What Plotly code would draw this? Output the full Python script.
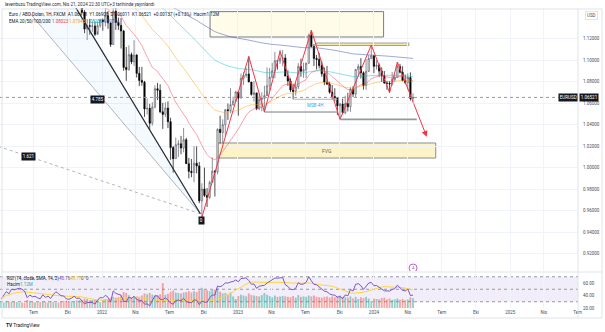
import numpy as np
import pandas as pd
import plotly.graph_objects as go

# ---------------- weekly EUR/USD bars (Monday-dated) ----------------
weeks = pd.date_range("2021-01-04", "2024-04-15", freq="W-MON")
first_open = 1.2215

close = [
    # 2021
    1.2219, 1.2078, 1.2170, 1.2136, 1.2044, 1.2119, 1.2117, 1.2075, 1.1914, 1.1951, 1.1903, 1.1794, 1.1762,
    1.1900, 1.1983, 1.2097, 1.2020, 1.2164, 1.2142, 1.2180, 1.2193, 1.2166, 1.2107, 1.1865, 1.1937, 1.1864,
    1.1876, 1.1810, 1.1771, 1.1870, 1.1762, 1.1795, 1.1697, 1.1795, 1.1879, 1.1813, 1.1727, 1.1719, 1.1596,
    1.1574, 1.1600, 1.1645, 1.1558, 1.1568, 1.1445, 1.1288, 1.1318, 1.1315, 1.1316, 1.1239, 1.1320, 1.1370,
    # 2022
    1.1358, 1.1412, 1.1345, 1.1144, 1.1453, 1.1349, 1.1322, 1.1270, 1.0931, 1.0911, 1.1050, 1.0983, 1.1046,
    1.0876, 1.0810, 1.0794, 1.0545, 1.0550, 1.0412, 1.0562, 1.0733, 1.0718, 1.0518, 1.0494, 1.0553, 1.0426,
    1.0185, 1.0082, 1.0212, 1.0220, 1.0181, 1.0258, 1.0036, 0.9964, 0.9953, 1.0040, 1.0015, 0.9690, 0.9800,
    0.9740, 0.9722, 0.9862, 0.9965, 0.9959, 1.0355, 1.0325, 1.0398, 1.0537, 1.0530, 1.0585, 1.0617, 1.0702,
    # 2023
    1.0645, 1.0830, 1.0856, 1.0869, 1.0795, 1.0680, 1.0694, 1.0548, 1.0634, 1.0643, 1.0669, 1.0760, 1.0840,
    1.0900, 1.0992, 1.0990, 1.1016, 1.1018, 1.0850, 1.0805, 1.0720, 1.0708, 1.0750, 1.0940, 1.0895, 1.0910,
    1.0970, 1.1230, 1.1125, 1.1015, 1.1005, 1.0948, 1.0872, 1.0795, 1.0775, 1.0700, 1.0660, 1.0650, 1.0573,
    1.0590, 1.0510, 1.0594, 1.0565, 1.0729, 1.0683, 1.0913, 1.0940, 1.0881, 1.0762, 1.0895, 1.1013, 1.1039,
    # 2024
    1.0941, 1.0951, 1.0897, 1.0853, 1.0785, 1.0784, 1.0777, 1.0820, 1.0838, 1.0939, 1.0886, 1.0808, 1.0790,
    1.0837, 1.0642, 1.0652,
]

high = [
    # 2021
    1.2349, 1.2223, 1.2189, 1.2190, 1.2150, 1.2150, 1.2145, 1.2243, 1.2113, 1.1990, 1.1990, 1.1945, 1.1800,
    1.1927, 1.1994, 1.2117, 1.2150, 1.2172, 1.2181, 1.2245, 1.2266, 1.2254, 1.2218, 1.2145, 1.1975, 1.1951,
    1.1895, 1.1880, 1.1850, 1.1909, 1.1900, 1.1803, 1.1805, 1.1810, 1.1909, 1.1883, 1.1849, 1.1750, 1.1727,
    1.1640, 1.1624, 1.1669, 1.1692, 1.1616, 1.1609, 1.1464, 1.1374, 1.1383, 1.1355, 1.1360, 1.1361, 1.1385,
    # 2022
    1.1386, 1.1482, 1.1454, 1.1343, 1.1484, 1.1495, 1.1395, 1.1390, 1.1280, 1.1121, 1.1137, 1.1070, 1.1185,
    1.1054, 1.0935, 1.0936, 1.0806, 1.0642, 1.0593, 1.0607, 1.0765, 1.0787, 1.0774, 1.0601, 1.0606, 1.0615,
    1.0463, 1.0200, 1.0279, 1.0254, 1.0294, 1.0368, 1.0275, 1.0090, 1.0079, 1.0198, 1.0197, 1.0051, 0.9853,
    0.9999, 0.9809, 0.9877, 1.0094, 0.9977, 1.0364, 1.0481, 1.0448, 1.0545, 1.0595, 1.0737, 1.0660, 1.0714,
    # 2023
    1.0713, 1.0874, 1.0887, 1.0929, 1.1033, 1.0795, 1.0805, 1.0695, 1.0691, 1.0700, 1.0760, 1.0930, 1.0925,
    1.0973, 1.1075, 1.1000, 1.1095, 1.1092, 1.1054, 1.0904, 1.0830, 1.0780, 1.0787, 1.0971, 1.1012, 1.0976,
    1.0975, 1.1245, 1.1276, 1.1149, 1.1047, 1.1065, 1.0987, 1.0930, 1.0945, 1.0797, 1.0768, 1.0737, 1.0650,
    1.0601, 1.0640, 1.0668, 1.0695, 1.0747, 1.0756, 1.0914, 1.0965, 1.1017, 1.0894, 1.1009, 1.1045, 1.1140,
    # 2024
    1.1045, 1.0998, 1.0969, 1.0932, 1.0897, 1.0806, 1.0805, 1.0888, 1.0865, 1.0981, 1.0964, 1.0942, 1.0865,
    1.0877, 1.0885, 1.0691,
]

low = [
    # 2021
    1.2194, 1.2055, 1.2054, 1.2058, 1.1952, 1.2030, 1.2023, 1.2066, 1.1893, 1.1836, 1.1875, 1.1762, 1.1704,
    1.1760, 1.1868, 1.1960, 1.2012, 1.1986, 1.2052, 1.2104, 1.2133, 1.2104, 1.2094, 1.1847, 1.1846, 1.1807,
    1.1782, 1.1772, 1.1752, 1.1766, 1.1754, 1.1706, 1.1664, 1.1696, 1.1787, 1.1800, 1.1724, 1.1684, 1.1563,
    1.1529, 1.1524, 1.1571, 1.1535, 1.1513, 1.1432, 1.1250, 1.1186, 1.1235, 1.1262, 1.1222, 1.1265, 1.1300,
    # 2022
    1.1273, 1.1313, 1.1290, 1.1121, 1.1140, 1.1280, 1.1280, 1.1106, 1.0900, 1.0806, 1.0900, 1.0961, 1.0945,
    1.0837, 1.0757, 1.0761, 1.0471, 1.0493, 1.0350, 1.0389, 1.0550, 1.0627, 1.0506, 1.0359, 1.0469, 1.0366,
    1.0072, 0.9952, 1.0080, 1.0097, 1.0123, 1.0141, 1.0034, 0.9899, 0.9910, 0.9864, 0.9945, 0.9668, 0.9536,
    0.9725, 0.9632, 0.9705, 0.9860, 0.9730, 0.9936, 1.0224, 1.0224, 1.0290, 1.0443, 1.0505, 1.0575, 1.0610,
    # 2023
    1.0483, 1.0645, 1.0767, 1.0834, 1.0794, 1.0669, 1.0613, 1.0533, 1.0533, 1.0524, 1.0516, 1.0713, 1.0713,
    1.0830, 1.0830, 1.0910, 1.0964, 1.0941, 1.0850, 1.0760, 1.0701, 1.0635, 1.0668, 1.0730, 1.0844, 1.0834,
    1.0833, 1.0964, 1.1117, 1.0944, 1.0912, 1.0921, 1.0844, 1.0766, 1.0771, 1.0686, 1.0631, 1.0615, 1.0488,
    1.0448, 1.0496, 1.0495, 1.0522, 1.0517, 1.0656, 1.0656, 1.0852, 1.0828, 1.0724, 1.0723, 1.0889, 1.1008,
    # 2024
    1.0877, 1.0911, 1.0844, 1.0795, 1.0779, 1.0723, 1.0695, 1.0761, 1.0796, 1.0838, 1.0875, 1.0802, 1.0774,
    1.0724, 1.0622, 1.0601,
]

# weekly tick volume, millions
volume_m = [
    0.85, 0.80, 0.75, 0.80, 0.85, 0.70, 0.70, 0.85, 0.80, 0.75, 0.70, 0.75, 0.70,
    0.72, 0.65, 0.78, 0.70, 0.75, 0.72, 0.70, 0.62, 0.66, 0.60, 0.95, 0.80, 0.70,
    0.68, 0.66, 0.70, 0.72, 0.74, 0.65, 0.80, 0.70, 0.62, 0.66, 0.70, 0.78, 0.85,
    0.80, 0.78, 0.72, 0.88, 0.90, 0.95, 1.10, 1.05, 0.92, 0.95, 0.98, 0.85, 0.70,
    0.95, 1.05, 1.00, 1.15, 1.30, 1.20, 1.25, 1.45, 1.85, 1.75, 1.50, 1.25, 1.40,
    1.35, 1.30, 1.45, 1.70, 1.60, 1.75, 1.55, 1.45, 1.50, 1.60, 2.90, 1.55, 1.65,
    1.90, 2.05, 1.80, 1.75, 1.70, 1.80, 1.85, 1.95, 1.80, 1.95, 1.85, 2.05, 2.35,
    2.15, 2.05, 1.95, 2.10, 2.15, 2.30, 1.90, 1.70, 1.75, 1.50, 1.80, 1.35, 1.05,
    1.40, 1.55, 1.45, 1.35, 1.70, 1.50, 1.45, 1.40, 1.35, 1.50, 1.75, 1.55, 1.40,
    1.25, 1.45, 1.30, 1.35, 1.40, 1.35, 1.30, 1.25, 1.40, 1.20, 1.50, 1.30, 1.35,
    1.30, 1.45, 1.35, 1.45, 1.30, 1.25, 1.20, 1.30, 1.35, 1.20, 1.35, 1.25, 1.40,
    1.45, 1.30, 1.25, 1.20, 1.35, 1.10, 1.30, 1.05, 1.25, 1.15, 1.30, 1.10, 0.80,
    1.10, 1.05, 1.00, 1.15, 1.20, 1.00, 1.10, 0.95, 1.00, 1.10, 0.95, 1.05, 0.90,
    1.00, 1.25, 1.12,
]

assert len(close) == len(high) == len(low) == len(volume_m) == len(weeks)

# EMA ribbon: lengths, starting values, colours
ema_lengths = [20, 50, 100, 200]
ema_start = [1.215, 1.195, 1.200, 1.165]
ema_colors = ["rgba(242,54,69,0.45)", "rgba(255,152,0,0.45)",
              "rgba(0,188,212,0.45)", "rgba(63,81,181,0.5)"]

# hand-drawn zigzag (swing points) and projection arrow
zz_dates = ["2022-09-26", "2023-01-30", "2023-03-13", "2023-04-24", "2023-05-29", "2023-07-17",
            "2023-10-02", "2023-12-25", "2024-02-12", "2024-03-04", "2024-04-15"]
zz_prices = [0.9536, 1.1033, 1.0516, 1.1080, 1.0720, 1.1276, 1.0448, 1.1139, 1.0695, 1.0981, 1.0610]
arrow_to = ("2024-05-22", 1.0285)

# trend fan from the 2022 low
fan_origin = ("2022-09-22", 0.9570)
fan_black_end = ("2021-10-15", 1.1530)
fan_gray_end = ("2021-06-21", 1.1437)
fan_dot_end = ("2021-03-07", 1.0221)

# horizontal levels: (start, end, price, colour, width)
levels = [
    ("2023-03-13", "2023-09-27", 1.0516, "#787b86", 1),
    ("2023-05-29", "2023-09-25", 1.0635, "#b2b5be", 1),
    ("2023-10-02", "2024-04-25", 1.0448, "#9598a1", 1.6),
]

# zones: (start, end, low, high, fill, border)
zones = [
    ("2022-10-18", "2024-01-27", 1.1214, 1.1450, "#fffde9", "#787b86"),
    ("2023-07-29", "2024-04-04", 1.1135, 1.1158, "#fbe9a6", "#9e9e9e"),
    ("2022-11-08", "2024-06-15", 1.0088, 1.0228, "#fcf3c6", "#8d8d8d"),
]

last_price = 1.06521

x_tick_dates = ["2021-07-01", "2021-10-01", "2022-01-01", "2022-04-01", "2022-07-01", "2022-10-01",
                "2023-01-01", "2023-04-01", "2023-07-01", "2023-10-01", "2024-01-01", "2024-04-01",
                "2024-07-01", "2024-10-01", "2025-01-01", "2025-04-01", "2025-07-01"]
x_tick_text = ["Tem", "Eki", "2022", "Nis", "Tem", "Eki", "2023", "Nis", "Tem", "Eki", "2024", "Nis",
               "Tem", "Eki", "2025", "Nis", "Tem"]
price_ticks = [0.92, 0.94, 0.96, 0.98, 1.00, 1.02, 1.04, 1.06, 1.08, 1.10, 1.12]

# ---------------- derived series ----------------
opens = [first_open] + close[:-1]


def ema(values, length, start):
    a = 2.0 / (length + 1)
    e, out = start, []
    for v in values:
        e = e + a * (v - e)
        out.append(e)
    return out


def rsi_wilder(values, prev0, n=14):
    prev = np.r_[prev0, values[:-1]]
    ch = np.asarray(values) - prev
    g = np.clip(ch, 0, None)
    l = np.clip(-ch, 0, None)
    out = np.full(len(values), np.nan)
    ag, al = g[:n].mean(), l[:n].mean()
    out[n - 1] = 100 - 100 / (1 + ag / al)
    for i in range(n, len(values)):
        ag = (ag * (n - 1) + g[i]) / n
        al = (al * (n - 1) + l[i]) / n
        out[i] = 100 - 100 / (1 + ag / al)
    return out


rsi = rsi_wilder(close, first_open)
rsi_ma = pd.Series(rsi).rolling(14, min_periods=1).mean().values
vol_colors = ["rgba(38,166,154,0.5)" if c >= o else "rgba(239,83,80,0.5)" for o, c in zip(opens, close)]

# ---------------- page geometry ----------------
W, H = 605, 332
PL, PR, PT, PB = 0, 27, 8, 24
PW = W - PL - PR
PH = H - PT - PB


def xp(px):
    return (px - PL) / PW


def yp(py):
    return (H - PB - py) / PH


FONT = "Roboto"
TXT = "#131722"
AX = "#4a4d57"

fig = go.Figure()

# volume (base of the lower pane)
fig.add_trace(go.Bar(x=weeks, y=volume_m, marker=dict(color=vol_colors, line=dict(width=0)),
                     width=5 * 86400000, xaxis="x", yaxis="y2", hoverinfo="skip"))
# RSI + its moving average
fig.add_trace(go.Scatter(x=weeks, y=rsi_ma, mode="lines", line=dict(color="#fdd835", width=1),
                         xaxis="x", yaxis="y3", hoverinfo="skip"))
fig.add_trace(go.Scatter(x=weeks, y=rsi, mode="lines", line=dict(color="#7e57c2", width=1),
                         xaxis="x", yaxis="y3", hoverinfo="skip"))

# fan from the low
fig.add_trace(go.Scatter(x=[fan_origin[0], fan_black_end[0], fan_gray_end[0], fan_origin[0]],
                         y=[fan_origin[1], fan_black_end[1], fan_gray_end[1], fan_origin[1]],
                         mode="lines", fill="toself", fillcolor="rgba(100,181,246,0.07)",
                         line=dict(width=0), hoverinfo="skip"))
fig.add_trace(go.Scatter(x=[fan_origin[0], fan_gray_end[0]], y=[fan_origin[1], fan_gray_end[1]],
                         mode="lines", line=dict(color="#b2b5be", width=1), hoverinfo="skip"))
fig.add_trace(go.Scatter(x=[fan_origin[0], fan_dot_end[0]], y=[fan_origin[1], fan_dot_end[1]],
                         mode="lines", line=dict(color="#b2b5be", width=1, dash="dot"), hoverinfo="skip"))

# EMAs
for n, s, c in zip(ema_lengths, ema_start, ema_colors):
    fig.add_trace(go.Scatter(x=weeks, y=ema(close, n, s), mode="lines", line=dict(color=c, width=1),
                             hoverinfo="skip"))

# candles
fig.add_trace(go.Candlestick(
    x=weeks, open=opens, high=high, low=low, close=close,
    increasing=dict(line=dict(color="#5d606b", width=0.7), fillcolor="#ffffff"),
    decreasing=dict(line=dict(color="#000000", width=0.7), fillcolor="#000000"),
    whiskerwidth=0, hoverinfo="skip"))

fig.add_trace(go.Scatter(x=[fan_origin[0], fan_black_end[0]], y=[fan_origin[1], fan_black_end[1]],
                         mode="lines", line=dict(color="#2a2e39", width=1.3), hoverinfo="skip"))

# zigzag
fig.add_trace(go.Scatter(x=zz_dates, y=zz_prices, mode="lines", line=dict(color="#f23645", width=1),
                         hoverinfo="skip"))

# event marker
fig.add_trace(go.Scatter(x=["2024-04-15"], y=[0.9065], mode="markers+text", text=["4"],
                         textfont=dict(size=4, color="#ab47bc", family=FONT), textposition="middle center",
                         marker=dict(symbol="circle", size=8, color="white",
                                     line=dict(color="#ba68c8", width=1)), hoverinfo="skip"))

shapes = []
for x0, x1, y0, y1, fc, lc in zones:
    shapes.append(dict(type="rect", xref="x", yref="y", x0=x0, x1=x1, y0=y0, y1=y1,
                       fillcolor=fc, line=dict(color=lc, width=1), layer="below"))
for x0, x1, yv, c, w in levels:
    shapes.append(dict(type="line", xref="x", yref="y", x0=x0, x1=x1, y0=yv, y1=yv,
                       line=dict(color=c, width=w)))
# last price line
shapes.append(dict(type="line", xref="paper", yref="y", x0=0, x1=1, y0=last_price, y1=last_price,
                   line=dict(color="#9598a1", width=1, dash="dot")))
# RSI band and levels
shapes.append(dict(type="rect", xref="paper", yref="y3", x0=0, x1=1, y0=30, y1=70,
                   fillcolor="rgba(126,87,194,0.10)", line=dict(width=0), layer="below"))
for lv in (70, 50, 30):
    shapes.append(dict(type="line", xref="paper", yref="y3", x0=0, x1=1, y0=lv, y1=lv,
                       line=dict(color="#9598a1", width=1, dash="dot"), layer="below"))
# frame, axis separator, pane separator
shapes.append(dict(type="rect", xref="paper", yref="paper", x0=xp(2), x1=xp(602), y0=yp(318), y1=yp(9),
                   line=dict(color="#e0e3eb", width=1)))
shapes.append(dict(type="line", xref="paper", yref="paper", x0=1, x1=1, y0=yp(318), y1=yp(9),
                   line=dict(color="#e0e3eb", width=1)))
shapes.append(dict(type="line", xref="paper", yref="paper", x0=xp(2), x1=xp(602), y0=yp(272), y1=yp(272),
                   line=dict(color="#e0e3eb", width=1)))

S = 4.5
ann = []


def pxa(px, py, text, color=TXT, size=S, **kw):
    d = dict(xref="paper", yref="paper", x=xp(px), y=yp(py), text=text, showarrow=False,
             xanchor="left", yanchor="middle", font=dict(family=FONT, size=size, color=color))
    d.update(kw)
    return d


# headers
ann.append(pxa(3, 4.7, "levenbuzu TradingView.com, Nis 21, 2024 22:30 UTC+3 tarihinde yayınlandı", color="#2a2e39"))
ann.append(pxa(7, 15, "Euro / ABD Doları, 1H, FXCM  A1.06418  Y1.06908  D1.06011  K1.06521  +0.00137 (+0.13%)  Hacim1.12M"))
ann.append(pxa(7, 21.5, "EMA 20/50/100/200"))
ann.append(pxa(50, 21.5, "1.08023", color="#f23645"))
ann.append(pxa(67, 21.5, "1.07945", color="#ff9800"))
ann.append(pxa(84, 21.5, "1.08250", color="#00acc1"))
ann.append(pxa(101, 21.5, "1.09734", color="#3f51b5"))
# lower pane legend
ann.append(pxa(5, 278, "RSI (14, close, SMA, 14, 2)"))
ann.append(pxa(57, 278, "40.76", color="#7e57c2"))
ann.append(pxa(68, 278, "40.77", color="#e6c200"))
ann.append(pxa(79, 278, "0", color=AX))
ann.append(pxa(84, 278, "0", color=AX))
ann.append(pxa(5, 284, "Hacim"))
ann.append(pxa(18, 284, "1.12M", color="#26a69a"))
# logo
ann.append(pxa(4, 325, "<b>TV</b> TradingView", color="#131722", size=4.8))
# right side labels
ann.append(dict(xref="paper", yref="y", x=xp(577.5), y=last_price, text="EURUSD", showarrow=False,
                xanchor="right", yanchor="middle", bgcolor="#131722", borderpad=0.8,
                font=dict(family=FONT, size=S, color="white")))
ann.append(dict(xref="paper", yref="y", x=xp(578.5), y=last_price, text="1.06521", showarrow=False,
                xanchor="left", yanchor="middle", bgcolor="#131722", borderpad=0.8,
                font=dict(family=FONT, size=S, color="white")))
ann.append(dict(xref="paper", yref="paper", x=xp(591), y=yp(16), text="USD", showarrow=False,
                xanchor="center", yanchor="middle", bordercolor="#e0e3eb", borderwidth=1, borderpad=1,
                font=dict(family=FONT, size=S, color=AX)))
# fan labels and origin tag
for (dx, dy, t) in [("2021-12-21", 1.0628, "4.785"), ("2021-06-18", 1.0107, "1.621"),
                    ("2022-09-26", 0.9505, "0")]:
    ann.append(dict(xref="x", yref="y", x=dx, y=dy, text=t, showarrow=False, bgcolor="#131722",
                    borderpad=0.8, font=dict(family=FONT, size=S, color="white")))
# zone / structure captions
ann.append(dict(xref="x", yref="y", x="2023-08-28", y=1.0158, text="FVG", showarrow=False,
                font=dict(family=FONT, size=5, color="#5d606b")))
ann.append(dict(xref="x", yref="y", x="2023-07-27", y=1.0581, text="MSB-4H", showarrow=False,
                font=dict(family=FONT, size=S, color="#42a5f5")))
# projected leg
ann.append(dict(xref="x", yref="y", axref="x", ayref="y", x=arrow_to[0], y=arrow_to[1],
                ax=zz_dates[-1], ay=zz_prices[-1], text="", showarrow=True, arrowhead=2,
                arrowsize=1.2, arrowwidth=1, arrowcolor="#f23645"))

fig.update_layout(
    width=W, height=H, margin=dict(l=PL, r=PR, t=PT, b=PB),
    paper_bgcolor="white", plot_bgcolor="white", showlegend=False, hovermode=False,
    shapes=shapes, annotations=ann,
    xaxis=dict(type="date", range=["2021-04-02", "2025-07-02"], anchor="y2",
               tickvals=x_tick_dates, ticktext=x_tick_text, ticks="",
               tickfont=dict(family=FONT, size=S, color=AX), showgrid=True, gridcolor="#f0f3fa",
               gridwidth=1, zeroline=False, showline=False, rangeslider=dict(visible=False)),
    yaxis=dict(domain=[yp(271), 1], range=[0.90372, 1.14837], side="right",
               tickvals=price_ticks, ticktext=[f"{v:.5f}" for v in price_ticks], ticks="",
               ticklabelstandoff=4, tickfont=dict(family=FONT, size=S, color=AX),
               showgrid=True, gridcolor="#f0f3fa", zeroline=False, showline=False),
    yaxis2=dict(domain=[0, yp(273)], range=[0, 4.07], visible=False, fixedrange=True),
    yaxis3=dict(overlaying="y2", range=[20, 76], side="right", tickvals=[20, 40, 60],
                ticktext=["20.00", "40.00", "60.00"], ticks="", ticklabelstandoff=4,
                tickfont=dict(family=FONT, size=S, color=AX), showgrid=False, zeroline=False),
)

fig.write_html("out.html")
